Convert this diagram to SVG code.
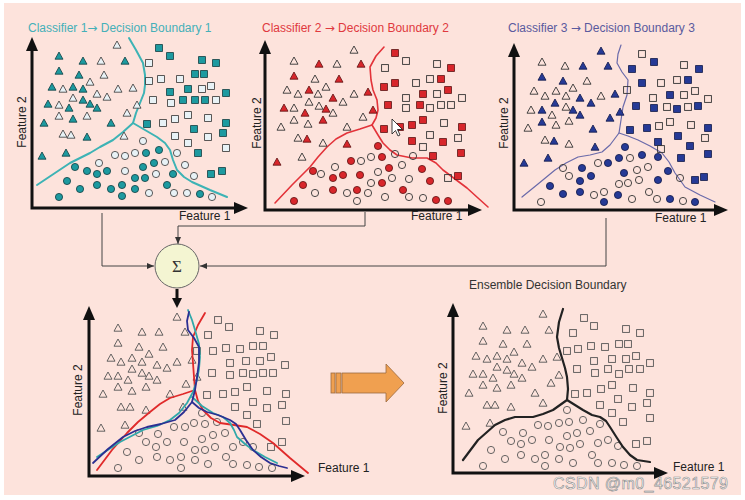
<svg xmlns="http://www.w3.org/2000/svg" xmlns:xlink="http://www.w3.org/1999/xlink" width="745" height="500" viewBox="0 0 745 500">
<style>
text{font-family:"Liberation Sans",Arial,sans-serif;font-size:12px}
.arr{font-family:"DejaVu Sans",sans-serif}
.lbl{fill:#222}
.ax{fill:none;stroke:#111;stroke-width:3;marker-start:url(#axA);marker-end:url(#axA)}
.con{fill:none;stroke:#444;stroke-width:1;marker-end:url(#cA)}
.tf1{fill:#1d9aa0;stroke:#0f3d40;stroke-width:0.8}
.th1{fill:#e8f2f6;stroke:#333;stroke-width:0.8}
.tf2{fill:#d8262b;stroke:#5c1212;stroke-width:0.8}
.th{fill:none;stroke:#333;stroke-width:0.9}
.tf3{fill:#263a96;stroke:#101848;stroke-width:0.8}
.o{fill:none;stroke:#555;stroke-width:0.9}
.bd{fill:none;stroke-linejoin:round;stroke-linecap:round}
</style>
<defs>
<marker id="axA" viewBox="0 0 14 12" refX="6" refY="6" markerWidth="14" markerHeight="12" markerUnits="userSpaceOnUse" orient="auto-start-reverse"><path d="M0,0 L14,6 L0,12 Z" fill="#111"/></marker>
<marker id="cA" viewBox="0 0 7 6" refX="7" refY="3" markerWidth="7" markerHeight="6" markerUnits="userSpaceOnUse" orient="auto"><path d="M0,0 L7,3 L0,6 Z" fill="#333"/></marker>
<marker id="tA" viewBox="0 0 10 10" refX="2" refY="5" markerWidth="10" markerHeight="10" markerUnits="userSpaceOnUse" orient="auto"><path d="M0,0 L10,5 L0,10 Z" fill="#111"/></marker>
<path id="T" d="M0,-4 L4,3.2 L-4,3.2 Z"/>
<rect id="S" x="-3.4" y="-3.4" width="6.8" height="6.8"/>
<circle id="C" r="3.6"/>
</defs>
<rect width="745" height="500" fill="#fff"/>
<rect x="4" y="3" width="737" height="492" fill="#fde3dc"/>

<g id="panel1">
<text x="28" y="32" fill="#45b0b8">Classifier 1<tspan class="arr">→</tspan> Decision Boundary 1</text>
<polyline class="ax" points="32,45 32,208 240,208"/>
<text class="lbl" x="179" y="220">Feature 1</text>
<text class="lbl" transform="translate(26,122) rotate(-90)" text-anchor="middle">Feature 2</text>
<polyline class="bd" stroke="#3db3b5" stroke-width="2" points="129,38 136,50 143,63 145,75 145,85 144,93 140,103 136,113 133,123 123,132 113,140 100,147 90,153 70,163 52,175 37,185"/>
<polyline class="bd" stroke="#3db3b5" stroke-width="2" points="133,123 145,130 157,137 165,143 170,150 173,160 177,170 184,177 192,182 210,190 227,197"/>
<g class="tf1">
<use href="#T" x="59" y="56"/><use href="#T" x="83" y="61"/><use href="#T" x="125" y="61"/><use href="#T" x="59" y="71"/><use href="#T" x="79" y="75"/><use href="#T" x="52" y="87"/><use href="#T" x="73" y="87"/><use href="#T" x="83" y="89"/><use href="#T" x="48" y="104"/><use href="#T" x="69" y="108"/><use href="#T" x="83" y="100"/><use href="#T" x="90" y="104"/><use href="#T" x="97" y="108"/><use href="#T" x="73" y="119"/><use href="#T" x="44" y="123"/><use href="#T" x="111" y="123"/><use href="#T" x="87" y="137"/><use href="#T" x="42" y="156"/><use href="#T" x="66" y="153"/>
<use href="#S" x="159" y="48"/><use href="#S" x="170" y="56"/><use href="#S" x="202" y="60"/><use href="#S" x="216" y="63"/><use href="#S" x="195" y="74"/><use href="#S" x="204" y="74"/><use href="#S" x="170" y="92"/><use href="#S" x="188" y="89"/><use href="#S" x="226" y="93"/><use href="#S" x="183" y="100"/><use href="#S" x="195" y="100"/><use href="#S" x="205" y="100"/><use href="#S" x="147" y="124"/><use href="#S" x="226" y="123"/><use href="#S" x="194" y="129"/><use href="#S" x="223" y="133"/><use href="#S" x="198" y="153"/><use href="#S" x="222" y="171"/><use href="#S" x="211" y="174"/>
<use href="#C" x="75" y="167"/><use href="#C" x="87" y="171"/><use href="#C" x="97" y="174"/><use href="#C" x="107" y="171"/><use href="#C" x="67" y="181"/><use href="#C" x="80" y="189"/><use href="#C" x="97" y="185"/><use href="#C" x="111" y="189"/><use href="#C" x="122" y="185"/><use href="#C" x="122" y="196"/><use href="#C" x="59" y="197"/><use href="#C" x="135" y="189"/><use href="#C" x="135" y="178"/><use href="#C" x="145" y="178"/><use href="#C" x="143" y="167"/><use href="#C" x="154" y="163"/><use href="#C" x="146" y="153"/><use href="#C" x="159" y="150"/><use href="#C" x="173" y="174"/><use href="#C" x="167" y="185"/><use href="#C" x="200" y="194"/>
</g>
<g class="th1">
<use href="#T" x="117" y="45"/><use href="#T" x="101" y="61"/><use href="#T" x="104" y="75"/><use href="#T" x="90" y="82"/><use href="#T" x="63" y="89"/><use href="#T" x="73" y="98"/><use href="#T" x="97" y="94"/><use href="#T" x="107" y="97"/><use href="#T" x="118" y="89"/><use href="#T" x="133" y="88"/><use href="#T" x="59" y="105"/><use href="#T" x="59" y="116"/><use href="#T" x="87" y="116"/><use href="#T" x="127" y="113"/><use href="#T" x="137" y="105"/><use href="#T" x="63" y="134"/><use href="#T" x="71" y="135"/><use href="#T" x="124" y="136"/>
<use href="#S" x="149" y="63"/><use href="#S" x="149" y="81"/><use href="#S" x="161" y="79"/><use href="#S" x="180" y="79"/><use href="#S" x="202" y="89"/><use href="#S" x="211" y="86"/><use href="#S" x="153" y="100"/><use href="#S" x="171" y="103"/><use href="#S" x="216" y="100"/><use href="#S" x="163" y="123"/><use href="#S" x="175" y="119"/><use href="#S" x="188" y="115"/><use href="#S" x="208" y="118"/><use href="#S" x="175" y="136"/><use href="#S" x="188" y="143"/><use href="#S" x="208" y="137"/><use href="#S" x="226" y="148"/>
<use href="#C" x="143" y="141"/><use href="#C" x="115" y="155"/><use href="#C" x="125" y="156"/><use href="#C" x="135" y="153"/><use href="#C" x="99" y="163"/><use href="#C" x="125" y="171"/><use href="#C" x="165" y="162"/><use href="#C" x="156" y="174"/><use href="#C" x="177" y="153"/><use href="#C" x="185" y="165"/><use href="#C" x="194" y="176"/><use href="#C" x="149" y="193"/><use href="#C" x="174" y="193"/><use href="#C" x="187" y="193"/><use href="#C" x="212" y="197"/>
</g>
</g>

<g id="panel2">
<text x="262" y="32" fill="#e0393e">Classifier 2 <tspan class="arr">→</tspan> Decision Boundary 2</text>
<polyline class="ax" points="265,48 265,210 474,210"/>
<text class="lbl" x="411" y="220">Feature 1</text>
<text class="lbl" transform="translate(261,123) rotate(-90)" text-anchor="middle">Feature 2</text>
<polyline class="bd" stroke="#e3333a" stroke-width="1.6" points="384,47 376,56 370,67 371,80 373,90 377,100 378,110 376,118 372,125 360,129 347,133 336,139 327,147 318,157 310,167 292,185 275,203"/>
<polyline class="bd" stroke="#e3333a" stroke-width="1.6" points="372,125 378,135 383,143 390,150 397,155 412,158 427,158 436,163 443,170 455,179 467,188 478,198 488,207"/>
<g class="tf2">
<use href="#T" x="319" y="64"/><use href="#T" x="361" y="64"/><use href="#T" x="294" y="76"/><use href="#T" x="339" y="79"/><use href="#T" x="309" y="90"/><use href="#T" x="333" y="98"/><use href="#T" x="368" y="92"/><use href="#T" x="284" y="108"/><use href="#T" x="305" y="113"/><use href="#T" x="326" y="109"/><use href="#T" x="323" y="120"/><use href="#T" x="373" y="110"/><use href="#T" x="307" y="139"/><use href="#T" x="347" y="144"/><use href="#T" x="277" y="162"/>
<use href="#S" x="395" y="53"/><use href="#S" x="451" y="68"/><use href="#S" x="384" y="87"/><use href="#S" x="395" y="83"/><use href="#S" x="441" y="79"/><use href="#S" x="423" y="94"/><use href="#S" x="448" y="90"/><use href="#S" x="388" y="105"/><use href="#S" x="420" y="105"/><use href="#S" x="423" y="120"/><use href="#S" x="384" y="129"/><use href="#S" x="400" y="127"/><use href="#S" x="412" y="125"/><use href="#S" x="462" y="127"/><use href="#S" x="412" y="141"/><use href="#S" x="443" y="142"/><use href="#S" x="461" y="153"/><use href="#S" x="433" y="156"/><use href="#S" x="458" y="176"/>
<use href="#C" x="378" y="146"/><use href="#C" x="382" y="157"/><use href="#C" x="351" y="161"/><use href="#C" x="313" y="171"/><use href="#C" x="333" y="178"/><use href="#C" x="343" y="175"/><use href="#C" x="360" y="175"/><use href="#C" x="382" y="183"/><use href="#C" x="389" y="168"/><use href="#C" x="422" y="169"/><use href="#C" x="430" y="181"/><use href="#C" x="303" y="185"/><use href="#C" x="333" y="190"/><use href="#C" x="357" y="190"/><use href="#C" x="403" y="190"/><use href="#C" x="294" y="201"/><use href="#C" x="436" y="200"/><use href="#C" x="448" y="201"/>
</g>
<g class="th">
<use href="#T" x="354" y="50"/><use href="#T" x="294" y="61"/><use href="#T" x="337" y="64"/><use href="#T" x="315" y="79"/><use href="#T" x="326" y="87"/><use href="#T" x="287" y="90"/><use href="#T" x="298" y="94"/><use href="#T" x="318" y="94"/><use href="#T" x="354" y="94"/><use href="#T" x="309" y="102"/><use href="#T" x="343" y="102"/><use href="#T" x="319" y="106"/><use href="#T" x="294" y="108"/><use href="#T" x="333" y="113"/><use href="#T" x="294" y="120"/><use href="#T" x="308" y="124"/><use href="#T" x="281" y="127"/><use href="#T" x="347" y="127"/><use href="#T" x="363" y="117"/><use href="#T" x="298" y="138"/><use href="#T" x="323" y="143"/><use href="#T" x="302" y="157"/>
<use href="#S" x="406" y="61"/><use href="#S" x="385" y="68"/><use href="#S" x="437" y="64"/><use href="#S" x="416" y="83"/><use href="#S" x="430" y="79"/><use href="#S" x="406" y="98"/><use href="#S" x="437" y="94"/><use href="#S" x="462" y="98"/><use href="#S" x="406" y="108"/><use href="#S" x="430" y="108"/><use href="#S" x="441" y="105"/><use href="#S" x="451" y="105"/><use href="#S" x="444" y="123"/><use href="#S" x="430" y="135"/><use href="#S" x="458" y="138"/><use href="#S" x="423" y="147"/><use href="#S" x="448" y="178"/>
<use href="#C" x="361" y="161"/><use href="#C" x="371" y="157"/><use href="#C" x="395" y="154"/><use href="#C" x="413" y="156"/><use href="#C" x="335" y="167"/><use href="#C" x="321" y="174"/><use href="#C" x="378" y="172"/><use href="#C" x="402" y="165"/><use href="#C" x="392" y="178"/><use href="#C" x="409" y="179"/><use href="#C" x="371" y="183"/><use href="#C" x="315" y="193"/><use href="#C" x="347" y="193"/><use href="#C" x="368" y="193"/><use href="#C" x="357" y="201"/><use href="#C" x="385" y="197"/><use href="#C" x="409" y="197"/><use href="#C" x="423" y="198"/>
</g>
<path d="M392,119 L392,134 L395.5,130.5 L398,136 L400,135 L397.5,129.5 L402.5,129.5 Z" fill="#fff" stroke="#111" stroke-width="0.8"/>
</g>

<g id="panel3">
<text x="508" y="32" fill="#5a5a9e">Classifier 3 <tspan class="arr">→</tspan> Decision Boundary 3</text>
<polyline class="ax" points="514,51 514,210 720,210"/>
<text class="lbl" x="655" y="222">Feature 1</text>
<text class="lbl" transform="translate(508,123) rotate(-90)" text-anchor="middle">Feature 2</text>
<polyline class="bd" stroke="#6a6aaa" stroke-width="1.2" points="621,45 618,54 617,63 622,72 628,80 627,95 623,107 621,120 619,133 610,145 602,152 590,155 578,157 566,163 555,170 538,184 522,197"/>
<polyline class="bd" stroke="#6a6aaa" stroke-width="1.2" points="619,133 628,136 638,140 650,146 662,153 669,162 675,173 685,187 700,195 715,202"/>
<g class="tf3">
<use href="#T" x="601" y="51"/><use href="#T" x="583" y="66"/><use href="#T" x="608" y="66"/><use href="#T" x="542" y="77"/><use href="#T" x="563" y="81"/><use href="#T" x="555" y="103"/><use href="#T" x="580" y="98"/><use href="#T" x="591" y="103"/><use href="#T" x="615" y="94"/><use href="#T" x="542" y="110"/><use href="#T" x="573" y="110"/><use href="#T" x="580" y="115"/><use href="#T" x="620" y="112"/><use href="#T" x="610" y="118"/><use href="#T" x="542" y="122"/><use href="#T" x="593" y="129"/><use href="#T" x="554" y="141"/><use href="#T" x="595" y="147"/><use href="#T" x="548" y="158"/><use href="#T" x="524" y="163"/>
<use href="#S" x="654" y="62"/><use href="#S" x="632" y="69"/><use href="#S" x="699" y="69"/><use href="#S" x="642" y="83"/><use href="#S" x="688" y="80"/><use href="#S" x="670" y="95"/><use href="#S" x="636" y="106"/><use href="#S" x="654" y="108"/><use href="#S" x="677" y="109"/><use href="#S" x="698" y="106"/><use href="#S" x="630" y="130"/><use href="#S" x="647" y="128"/><use href="#S" x="678" y="136"/><use href="#S" x="658" y="142"/><use href="#S" x="708" y="128"/><use href="#S" x="690" y="146"/><use href="#S" x="708" y="154"/><use href="#S" x="681" y="158"/><use href="#S" x="695" y="180"/><use href="#S" x="704" y="177"/>
<use href="#C" x="625" y="147"/><use href="#C" x="608" y="163"/><use href="#C" x="619" y="158"/><use href="#C" x="642" y="155"/><use href="#C" x="658" y="157"/><use href="#C" x="582" y="168"/><use href="#C" x="591" y="176"/><use href="#C" x="580" y="181"/><use href="#C" x="624" y="173"/><use href="#C" x="668" y="171"/><use href="#C" x="658" y="180"/><use href="#C" x="550" y="186"/><use href="#C" x="563" y="194"/><use href="#C" x="580" y="192"/><use href="#C" x="618" y="195"/><use href="#C" x="604" y="202"/><use href="#C" x="670" y="199"/><use href="#C" x="695" y="202"/>
</g>
<g class="th">
<use href="#T" x="542" y="62"/><use href="#T" x="565" y="66"/><use href="#T" x="587" y="81"/><use href="#T" x="534" y="91"/><use href="#T" x="545" y="96"/><use href="#T" x="556" y="91"/><use href="#T" x="566" y="96"/><use href="#T" x="573" y="88"/><use href="#T" x="601" y="96"/><use href="#T" x="531" y="110"/><use href="#T" x="552" y="115"/><use href="#T" x="566" y="107"/><use href="#T" x="528" y="128"/><use href="#T" x="556" y="125"/><use href="#T" x="569" y="121"/><use href="#T" x="545" y="140"/><use href="#T" x="569" y="144"/>
<use href="#S" x="642" y="54"/><use href="#S" x="684" y="65"/><use href="#S" x="627" y="90"/><use href="#S" x="661" y="83"/><use href="#S" x="677" y="80"/><use href="#S" x="695" y="91"/><use href="#S" x="684" y="95"/><use href="#S" x="653" y="98"/><use href="#S" x="708" y="99"/><use href="#S" x="667" y="107"/><use href="#S" x="688" y="107"/><use href="#S" x="659" y="126"/><use href="#S" x="670" y="122"/><use href="#S" x="691" y="125"/><use href="#S" x="661" y="149"/><use href="#S" x="705" y="138"/>
<use href="#C" x="598" y="163"/><use href="#C" x="630" y="158"/><use href="#C" x="563" y="168"/><use href="#C" x="569" y="176"/><use href="#C" x="637" y="170"/><use href="#C" x="648" y="167"/><use href="#C" x="628" y="183"/><use href="#C" x="619" y="184"/><use href="#C" x="639" y="180"/><use href="#C" x="680" y="178"/><use href="#C" x="594" y="195"/><use href="#C" x="604" y="192"/><use href="#C" x="649" y="192"/><use href="#C" x="632" y="199"/><use href="#C" x="657" y="199"/><use href="#C" x="683" y="201"/><use href="#C" x="541" y="202"/>
</g>
</g>

<g id="connectors">
<polyline class="con" points="102,213 102,266 154,266"/>
<polyline class="con" points="365,212 365,226 178,226 178,244"/>
<polyline class="con" points="606,218 606,266 200,266"/>
<line x1="177" y1="289" x2="177" y2="300" stroke="#111" stroke-width="3" marker-end="url(#tA)"/>
</g>

<g id="sigma">
<circle cx="177" cy="266" r="22" fill="#f4f5d2" stroke="#666" stroke-width="1"/>
<text x="177" y="272" text-anchor="middle" style="font-family:'Liberation Serif',serif;font-size:17px" fill="#333">Σ</text>
</g>

<g id="combined">
<polyline class="ax" points="89,314 89,476 297,476"/>
<text class="lbl" x="318" y="472">Feature 1</text>
<text class="lbl" transform="translate(82,390) rotate(-90)" text-anchor="middle">Feature 2</text>
<g class="o">
<use href="#T" x="177" y="317"/><use href="#T" x="118" y="328"/><use href="#T" x="142" y="332"/><use href="#T" x="159" y="332"/><use href="#T" x="185" y="332"/><use href="#T" x="118" y="343"/><use href="#T" x="139" y="347"/><use href="#T" x="163" y="347"/><use href="#T" x="111" y="358"/><use href="#T" x="121" y="362"/><use href="#T" x="132" y="358"/><use href="#T" x="142" y="362"/><use href="#T" x="149" y="354"/><use href="#T" x="157" y="365"/><use href="#T" x="167" y="368"/><use href="#T" x="177" y="362"/><use href="#T" x="192" y="360"/><use href="#T" x="132" y="369"/><use href="#T" x="142" y="373"/><use href="#T" x="149" y="376"/><use href="#T" x="157" y="380"/><use href="#T" x="108" y="376"/><use href="#T" x="118" y="376"/><use href="#T" x="128" y="380"/><use href="#T" x="118" y="387"/><use href="#T" x="132" y="391"/><use href="#T" x="146" y="387"/><use href="#T" x="103" y="394"/><use href="#T" x="170" y="394"/><use href="#T" x="186" y="384"/><use href="#T" x="197" y="377"/><use href="#T" x="121" y="407"/><use href="#T" x="130" y="407"/><use href="#T" x="146" y="410"/><use href="#T" x="183" y="407"/><use href="#T" x="101" y="428"/><use href="#T" x="125" y="425"/>
<use href="#S" x="218" y="320"/><use href="#S" x="229" y="327"/><use href="#S" x="260" y="331"/><use href="#S" x="274" y="335"/><use href="#S" x="208" y="335"/><use href="#S" x="197" y="351"/><use href="#S" x="213" y="351"/><use href="#S" x="226" y="348"/><use href="#S" x="240" y="349"/><use href="#S" x="253" y="346"/><use href="#S" x="263" y="346"/><use href="#S" x="230" y="363"/><use href="#S" x="246" y="361"/><use href="#S" x="260" y="361"/><use href="#S" x="271" y="357"/><use href="#S" x="285" y="365"/><use href="#S" x="212" y="373"/><use href="#S" x="230" y="375"/><use href="#S" x="243" y="373"/><use href="#S" x="253" y="374"/><use href="#S" x="263" y="373"/><use href="#S" x="273" y="373"/><use href="#S" x="247" y="387"/><use href="#S" x="267" y="391"/><use href="#S" x="286" y="394"/><use href="#S" x="207" y="395"/><use href="#S" x="223" y="394"/><use href="#S" x="235" y="392"/><use href="#S" x="235" y="407"/><use href="#S" x="253" y="402"/><use href="#S" x="267" y="408"/><use href="#S" x="282" y="405"/><use href="#S" x="247" y="415"/><use href="#S" x="257" y="424"/><use href="#S" x="286" y="421"/><use href="#S" x="282" y="442"/><use href="#S" x="271" y="447"/>
<use href="#C" x="202" y="413"/><use href="#C" x="194" y="423"/><use href="#C" x="185" y="427"/><use href="#C" x="174" y="427"/><use href="#C" x="205" y="424"/><use href="#C" x="217" y="422"/><use href="#C" x="139" y="433"/><use href="#C" x="158" y="434"/><use href="#C" x="146" y="442"/><use href="#C" x="156" y="447"/><use href="#C" x="167" y="442"/><use href="#C" x="184" y="442"/><use href="#C" x="202" y="439"/><use href="#C" x="213" y="435"/><use href="#C" x="225" y="433"/><use href="#C" x="243" y="442"/><use href="#C" x="195" y="450"/><use href="#C" x="205" y="450"/><use href="#C" x="215" y="447"/><use href="#C" x="233" y="447"/><use href="#C" x="253" y="447"/><use href="#C" x="127" y="452"/><use href="#C" x="139" y="460"/><use href="#C" x="157" y="457"/><use href="#C" x="170" y="460"/><use href="#C" x="181" y="457"/><use href="#C" x="195" y="460"/><use href="#C" x="208" y="464"/><use href="#C" x="226" y="457"/><use href="#C" x="233" y="464"/><use href="#C" x="247" y="465"/><use href="#C" x="259" y="467"/><use href="#C" x="272" y="468"/><use href="#C" x="118" y="468"/><use href="#C" x="181" y="468"/>
</g>
<polyline class="bd" stroke="#e02a2a" stroke-width="1.8" points="205,313 198,325 193,337 192,350 193,363 194,377 195,390 183,394 170,398 160,404 150,412 138,422 127,433 112,450 97,470"/>
<polyline class="bd" stroke="#e02a2a" stroke-width="1.8" points="195,390 198,401 203,410 211,418 220,423 234,425 247,427 260,434 273,443 290,458 308,473"/>
<polyline class="bd" stroke="#30a8aa" stroke-width="1.8" points="188,310 192,320 195,330 199,344 200,357 199,369 197,380 193,392 187,403 179,413 170,420 157,426 143,430 120,442 97,457"/>
<polyline class="bd" stroke="#30a8aa" stroke-width="1.8" points="192,397 202,406 213,413 223,417 230,423 234,430 237,437 245,444 253,450 265,457 277,463"/>
<polyline class="bd" stroke="#2c2f92" stroke-width="1.8" points="189,312 187,321 188,330 194,338 199,347 199,362 197,377 195,390 192,402 184,412 175,420 161,424 147,427 135,431 123,437 108,449 93,463"/>
<polyline class="bd" stroke="#2c2f92" stroke-width="1.8" points="192,402 199,408 207,412 218,415 230,420 236,424 240,430 246,440 253,450 261,457 270,463 279,466 287,468"/>
</g>

<g id="bigArrow">
<rect x="331" y="373" width="4" height="20" fill="#f0a050" stroke="#9a6a40" stroke-width="0.8"/>
<rect x="336" y="373" width="5" height="20" fill="#f0a050" stroke="#9a6a40" stroke-width="0.8"/>
<path d="M342,373 L386,373 L386,364 L404,383 L386,402 L386,393 L342,393 Z" fill="#f0a050" stroke="#9a6a40" stroke-width="0.8"/>
</g>

<g id="ensemble">
<text fill="#333" x="469" y="289">Ensemble Decision Boundary</text>
<polyline class="ax" points="453,311 453,473 660,473"/>
<text class="lbl" x="673" y="471">Feature 1</text>
<text class="lbl" transform="translate(447,388) rotate(-90)" text-anchor="middle">Feature 2</text>
<g class="o">
<use href="#T" x="543" y="314"/><use href="#T" x="483" y="326"/><use href="#T" x="507" y="330"/><use href="#T" x="525" y="330"/><use href="#T" x="549" y="330"/><use href="#T" x="483" y="341"/><use href="#T" x="503" y="344"/><use href="#T" x="527" y="344"/><use href="#T" x="476" y="356"/><use href="#T" x="487" y="359"/><use href="#T" x="497" y="356"/><use href="#T" x="507" y="359"/><use href="#T" x="514" y="352"/><use href="#T" x="497" y="367"/><use href="#T" x="507" y="370"/><use href="#T" x="522" y="363"/><use href="#T" x="532" y="367"/><use href="#T" x="543" y="359"/><use href="#T" x="557" y="357"/><use href="#T" x="473" y="374"/><use href="#T" x="483" y="374"/><use href="#T" x="493" y="378"/><use href="#T" x="514" y="374"/><use href="#T" x="522" y="378"/><use href="#T" x="483" y="385"/><use href="#T" x="497" y="388"/><use href="#T" x="511" y="385"/><use href="#T" x="469" y="393"/><use href="#T" x="535" y="393"/><use href="#T" x="551" y="383"/><use href="#T" x="559" y="375"/><use href="#T" x="487" y="405"/><use href="#T" x="495" y="405"/><use href="#T" x="511" y="407"/><use href="#T" x="543" y="403"/><use href="#T" x="466" y="426"/><use href="#T" x="490" y="423"/>
<use href="#S" x="584" y="318"/><use href="#S" x="594" y="326"/><use href="#S" x="573" y="333"/><use href="#S" x="626" y="329"/><use href="#S" x="640" y="333"/><use href="#S" x="567" y="351"/><use href="#S" x="578" y="349"/><use href="#S" x="591" y="346"/><use href="#S" x="605" y="347"/><use href="#S" x="619" y="344"/><use href="#S" x="628" y="344"/><use href="#S" x="594" y="361"/><use href="#S" x="612" y="359"/><use href="#S" x="626" y="359"/><use href="#S" x="636" y="356"/><use href="#S" x="650" y="363"/><use href="#S" x="577" y="369"/><use href="#S" x="595" y="373"/><use href="#S" x="608" y="369"/><use href="#S" x="619" y="374"/><use href="#S" x="629" y="369"/><use href="#S" x="640" y="369"/><use href="#S" x="575" y="394"/><use href="#S" x="587" y="393"/><use href="#S" x="601" y="389"/><use href="#S" x="612" y="385"/><use href="#S" x="633" y="388"/><use href="#S" x="650" y="393"/><use href="#S" x="600" y="405"/><use href="#S" x="618" y="399"/><use href="#S" x="632" y="407"/><use href="#S" x="647" y="403"/><use href="#S" x="612" y="413"/><use href="#S" x="650" y="418"/><use href="#S" x="623" y="422"/><use href="#S" x="636" y="444"/><use href="#S" x="647" y="441"/>
<use href="#C" x="567" y="410"/><use href="#C" x="538" y="425"/><use href="#C" x="548" y="426"/><use href="#C" x="559" y="423"/><use href="#C" x="569" y="422"/><use href="#C" x="583" y="420"/><use href="#C" x="600" y="424"/><use href="#C" x="503" y="432"/><use href="#C" x="523" y="433"/><use href="#C" x="511" y="441"/><use href="#C" x="521" y="444"/><use href="#C" x="532" y="440"/><use href="#C" x="549" y="440"/><use href="#C" x="567" y="436"/><use href="#C" x="577" y="433"/><use href="#C" x="590" y="431"/><use href="#C" x="560" y="447"/><use href="#C" x="570" y="448"/><use href="#C" x="580" y="444"/><use href="#C" x="598" y="443"/><use href="#C" x="608" y="440"/><use href="#C" x="618" y="446"/><use href="#C" x="491" y="450"/><use href="#C" x="521" y="455"/><use href="#C" x="505" y="459"/><use href="#C" x="535" y="459"/><use href="#C" x="545" y="455"/><use href="#C" x="545" y="466"/><use href="#C" x="559" y="459"/><use href="#C" x="573" y="463"/><use href="#C" x="592" y="455"/><use href="#C" x="598" y="463"/><use href="#C" x="612" y="463"/><use href="#C" x="624" y="465"/><use href="#C" x="637" y="466"/><use href="#C" x="483" y="466"/>
</g>
<polyline class="bd" stroke="#222" stroke-width="2.2" points="563,309 559,322 557,337 559,348 562,358 565,368 567,377 568,389 567,400 560,405 553,410 543,414 533,417 524,417 515,417 505,420 495,425 478,440 463,460"/>
<polyline class="bd" stroke="#222" stroke-width="2.2" points="567,400 575,405 583,410 592,415 600,417 606,421 610,427 617,438 623,447 630,455 637,460 650,462"/>
</g>

<text x="553" y="489" style="font-size:16px" fill="#fff" stroke="#8a8a8a" stroke-width="0.6" textLength="175">CSDN @m0_46521579</text>
</svg>
